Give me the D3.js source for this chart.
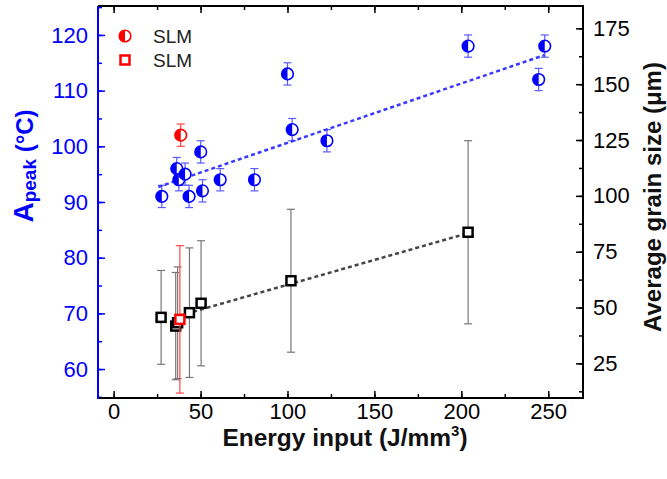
<!DOCTYPE html>
<html>
<head>
<meta charset="utf-8">
<script src="https://cdn.jsdelivr.net/npm/d3@7"></script>
<style>
  body { margin: 0; background: #fff; }
  svg { font-family: "Liberation Sans", Arial, sans-serif; }
</style>
</head>
<body>
<div id="chart"></div>
<script>
// Peak temperature (left axis, blue half-circles)
var energyA = [27.7, 36.3, 37.5, 41.1, 43.4, 50.1, 51.1, 61.3, 81, 100, 102.7, 122.7, 203.9, 244.5, 248];
var apeak   = [91, 96, 94, 95, 91, 99, 92, 94, 94, 113, 103, 101, 118, 112, 118];
var apeakErr = [2, 2, 2, 2, 2, 2, 2, 2, 2, 2, 2, 2, 2, 2, 2];

// SLM sample (red)
var slmEnergyA = [38.6], slmApeak = [102], slmApeakErr = [2];
var slmEnergyG = [38.1], slmGrain = [44.7], slmGrainErr = [33];

// Average grain size (right axis, black squares)
var energyG  = [27.3, 35.7, 36.8, 43.6, 50.3, 102, 203.9];
var grain    = [45.6, 41.7, 43.2, 47.7, 51.9, 62, 83.7];
var grainErr = [21, 24, 25, 29, 28, 32, 41];

// fitted trend lines, end points
var fitA = [[25.7, 92.7], [248, 116.4]];
var fitG = [[38, 46.4], [203.9, 83.3]];

var xTicks = [0, 50, 100, 150, 200, 250];
var leftTicks = [60, 70, 80, 90, 100, 110, 120];
var rightTicks = [25, 50, 75, 100, 125, 150, 175];

var W = 667, H = 479;
var L = 98, R = 583, T = 6, B = 398;
var blue = "#0000ff";

var svg = d3.select("#chart").append("svg")
    .attr("width", W).attr("height", H);

// scales
var x = d3.scaleLinear().domain([-9, 270]).range([L, R]);
var yL = d3.scaleLinear().domain([54.8, 125.2]).range([B, T]);
var yR = d3.scaleLinear().domain([9.5, 185]).range([B, T]);

function minors(scale, step) {
    var d = scale.domain(), out = [];
    for (var v = Math.ceil(d[0] / step) * step; v <= d[1]; v += step) out.push(v);
    return out;
}

// axes: major + minor ticks, all inward
function drawAxis(axisFn, scale, tr, major, step, color, labels, pad) {
    var g = svg.append("g").attr("transform", tr);
    g.call(axisFn(scale).tickValues(minors(scale, step)).tickSize(-4).tickFormat(""));
    var g2 = svg.append("g").attr("transform", tr);
    g2.call(axisFn(scale).tickValues(major).tickSize(-7).tickPadding(pad || 0)
        .tickFormat(labels ? d3.format("d") : ""));
    [g, g2].forEach(function(a) {
        a.select(".domain").remove();
        a.selectAll(".tick line").attr("stroke", color).attr("stroke-width", 1.5);
        a.selectAll("text").attr("fill", color).style("font-size", "22px");
    });
    return g2;
}

drawAxis(d3.axisBottom, x, "translate(0," + B + ")", xTicks, 25, "#000", true, 5);
drawAxis(d3.axisTop, x, "translate(0," + T + ")", xTicks, 25, "#000", false);
drawAxis(d3.axisLeft, yL, "translate(" + L + ",0)", leftTicks, 5, blue, true, 10);
drawAxis(d3.axisRight, yR, "translate(" + R + ",0)", rightTicks, 12.5, "#000", true, 10);

// frame
svg.append("path").attr("d", "M" + L + "," + T + "H" + R + "V" + B + "H" + L)
    .attr("fill", "none").attr("stroke", "#000").attr("stroke-width", 2);
svg.append("line").attr("x1", L).attr("x2", L).attr("y1", T).attr("y2", B + 1)
    .attr("stroke", blue).attr("stroke-width", 2);

// error bars
function errBars(xs, ys, es, yScale, color, w) {
    var g = svg.append("g").attr("stroke", color).attr("stroke-width", w).attr("fill", "none");
    xs.forEach(function(xv, i) {
        var cx = x(xv), y1 = yScale(ys[i] + es[i]), y2 = yScale(ys[i] - es[i]);
        g.append("line").attr("x1", cx).attr("x2", cx).attr("y1", y1).attr("y2", y2);
        g.append("line").attr("x1", cx - 4).attr("x2", cx + 4).attr("y1", y1).attr("y2", y1);
        g.append("line").attr("x1", cx - 4).attr("x2", cx + 4).attr("y1", y2).attr("y2", y2);
    });
}
errBars(energyG, grain, grainErr, yR, "#777", 1.2);
errBars(energyA, apeak, apeakErr, yL, "#5a5aff", 1.2);

// trend lines
svg.append("path")
    .attr("d", d3.line().x(function(d) { return x(d[0]); }).y(function(d) { return yR(d[1]); })(fitG))
    .attr("fill", "none").attr("stroke", "#444").attr("stroke-width", 2.5).attr("stroke-dasharray", "4,3");
svg.append("path")
    .attr("d", d3.line().x(function(d) { return x(d[0]); }).y(function(d) { return yL(d[1]); })(fitA))
    .attr("fill", "none").attr("stroke", "#3a3aff").attr("stroke-width", 2.5).attr("stroke-dasharray", "4,3");

// markers
function halfCircle(g, cx, cy, r, color) {
    g.append("circle").attr("cx", cx).attr("cy", cy).attr("r", r).attr("fill", "#fff");
    g.append("path")
        .attr("d", "M" + cx + "," + (cy - r) + "A" + r + "," + r + " 0 0 0 " + cx + "," + (cy + r) + "Z")
        .attr("fill", color);
    g.append("circle").attr("cx", cx).attr("cy", cy).attr("r", r)
        .attr("fill", "none").attr("stroke", color).attr("stroke-width", 1.6);
}
function square(g, cx, cy, s, color) {
    g.append("rect").attr("x", cx - s / 2).attr("y", cy - s / 2).attr("width", s).attr("height", s)
        .attr("fill", "#fff").attr("stroke", color).attr("stroke-width", 2.5);
}

var gm = svg.append("g");
energyG.forEach(function(v, i) { square(gm, x(v), yR(grain[i]), 9, "#000"); });
energyA.forEach(function(v, i) { halfCircle(gm, x(v), yL(apeak[i]), 5.8, blue); });

// SLM in red, on top
errBars(slmEnergyG, slmGrain, slmGrainErr, yR, "#ff4444", 1.2);
errBars(slmEnergyA, slmApeak, slmApeakErr, yL, "#ff4444", 1.2);
var gr = svg.append("g");
slmEnergyA.forEach(function(v, i) { halfCircle(gr, x(v), yL(slmApeak[i]), 5.8, "#ff0000"); });
slmEnergyG.forEach(function(v, i) { square(gr, x(v), yR(slmGrain[i]), 9, "#ff0000"); });

// legend
var lg = svg.append("g");
halfCircle(lg, 125, 36, 5.8, "#ff0000");
square(lg, 125, 60, 9, "#ff0000");
lg.selectAll("text.leg").data(["SLM", "SLM"]).enter().append("text")
    .attr("x", 153).attr("y", function(d, i) { return 43 + i * 24; })
    .style("font-size", "19px").attr("fill", "#222").text(function(d) { return d; });

// axis titles
var xt = svg.append("text").attr("x", 345).attr("y", 446).attr("text-anchor", "middle")
    .style("font-size", "24.5px").style("font-weight", "bold").attr("fill", "#111");
xt.append("tspan").text("Energy input (J/mm");
xt.append("tspan").attr("dy", -10).style("font-size", "15px").text("3");
xt.append("tspan").attr("dy", 10).text(")");

var yt = svg.append("text").attr("transform", "translate(33,166) rotate(-90)")
    .attr("text-anchor", "middle").style("font-size", "24px").style("font-weight", "bold").attr("fill", blue);
yt.append("tspan").style("font-size", "28px").text("A");
yt.append("tspan").attr("dy", 3).style("font-size", "19px").text("peak");
yt.append("tspan").attr("dy", -3).text(" (°C)");

svg.append("text").attr("transform", "translate(661,197) rotate(-90)")
    .attr("text-anchor", "middle").style("font-size", "24px").style("font-weight", "bold").attr("fill", "#111")
    .text("Average grain size (μm)");
</script>
</body>
</html>
